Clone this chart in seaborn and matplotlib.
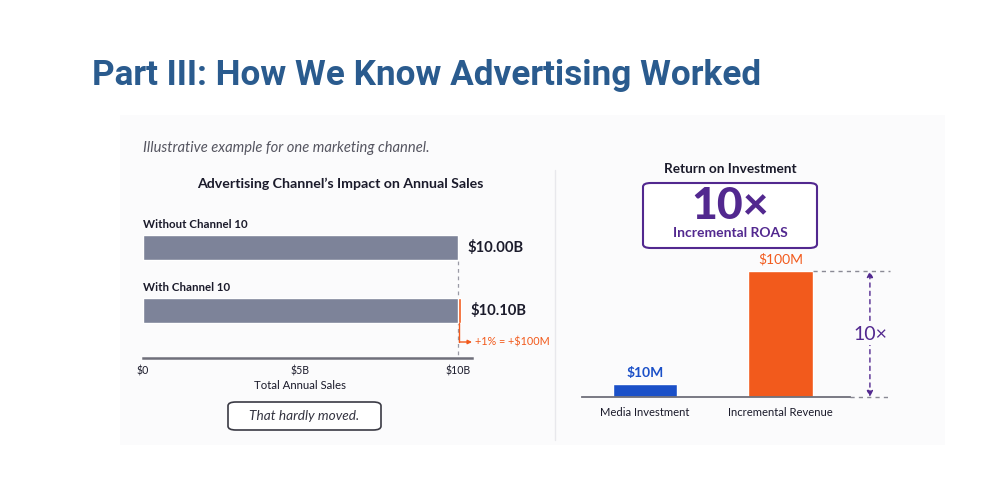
import matplotlib
matplotlib.use("Agg")
import matplotlib.pyplot as plt
from matplotlib.patches import FancyBboxPatch, Rectangle
import seaborn as sns

# --- data ---
sales_labels = ["Without Channel 10", "With Channel 10"]
sales_base = [10.0, 10.0]          # $B without the channel
sales_total = [10.0, 10.1]         # $B with the channel lift
sales_text = ["$10.00B", "$10.10B"]
sales_ticks = [0, 5, 10]
sales_tick_labels = ["$0", "$5B", "$10B"]

roi_labels = ["Media Investment", "Incremental Revenue"]
roi_values = [10, 100]             # $M
roi_text = ["$10M", "$100M"]

GRAY_BAR = "#7d8399"
ORANGE = "#f25a1c"
BLUE = "#1b50c8"
PURPLE = "#52288f"
DARK = "#1b1b2b"
AXIS = "#6f6f7a"
PANEL = "#fbfbfc"

W, H = 984, 482

sns.set_theme(style="white")
plt.rcParams["font.family"] = ["Lato", "DejaVu Sans"]

fig = plt.figure(figsize=(W / 100, H / 100), dpi=100)
fig.patch.set_facecolor("white")


def fx(x):
    return x / W


def fy(y):
    return 1 - y / H


def px_axes(x0, y0, x1, y1):
    a = fig.add_axes([fx(x0), fy(y1), (x1 - x0) / W, (y1 - y0) / H])
    a.set_zorder(2)
    a.patch.set_alpha(0)
    return a


# faint slide panel
fig.patches.append(Rectangle((fx(120), fy(445)), (945 - 120) / W, (445 - 115) / H,
                             transform=fig.transFigure, facecolor=PANEL,
                             edgecolor="none", zorder=-10))

fig.text(fx(92), fy(76), "Part III: How We Know Advertising Worked",
         family=["Roboto", "DejaVu Sans"],
         fontsize=25.3, fontweight="bold", color="#2a5b8e", va="center", ha="left")

# separator
fig.add_artist(plt.Line2D([fx(555), fx(555)], [fy(170), fy(440)],
                          transform=fig.transFigure, color="#e8e8ec", lw=1,
                          zorder=-5))

# ---------------- left chart ----------------
fig.text(fx(143), fy(148), "Illustrative example for one marketing channel.",
         fontsize=10.6, style="italic", color="#555560", va="center")
fig.text(fx(340), fy(184), "Advertising Channel\u2019s Impact on Annual Sales",
         fontsize=10.2, fontweight="bold", color=DARK, ha="center", va="center")

ax = px_axes(143, 200, 472, 358)
sns.barplot(x=sales_total, y=sales_labels, orient="h", color=ORANGE,
            width=0.4, ax=ax, saturation=1)
sns.barplot(x=sales_base, y=sales_labels, orient="h", color=GRAY_BAR,
            width=0.4, ax=ax, saturation=1)
ax.set_xlim(0, 10.45)
ax.set_ylim(1.754, -0.754)
for s in ["top", "right", "left"]:
    ax.spines[s].set_visible(False)
ax.spines["bottom"].set_color(AXIS)
ax.spines["bottom"].set_linewidth(1.8)
ax.set_yticks([])
ax.set_ylabel("")
ax.set_xticks(sales_ticks)
ax.set_xticklabels(sales_tick_labels, fontsize=7.6, color=DARK)
ax.tick_params(axis="x", direction="inout", length=5, width=1.2, color=AXIS, pad=3)
ax.set_xlabel("Total Annual Sales", fontsize=8.2, color=DARK)
ax.xaxis.set_label_coords((300 - 143) / 329, -0.14)

for i, (lab, tot, txt) in enumerate(zip(sales_labels, sales_total, sales_text)):
    ax.text(0, i - 0.37, lab, fontsize=8.3, fontweight="bold", color=DARK,
            ha="left", va="center")
    ax.annotate(txt, (tot, i), xytext=(7, 0), textcoords="offset points",
                fontsize=10.6, fontweight="bold", color=DARK, va="center", ha="left")

ax.vlines(sales_base[0], 0.22, 1.754, colors="#9a9aa5", linestyles=(0, (3, 3)),
          lw=0.9, zorder=0)

lift = sales_total[1] - sales_base[1]
ax.plot([sales_base[1] + lift / 2, sales_base[1] + lift / 2], [1.2, 1.5],
        color=ORANGE, lw=1, clip_on=False)
ax.annotate("", xy=(10.45, 1.5), xytext=(sales_base[1] + lift / 2, 1.5),
            arrowprops=dict(arrowstyle="-|>", color=ORANGE, lw=1,
                            mutation_scale=6, shrinkA=0, shrinkB=0))
ax.text(10.55, 1.5, "+1% = +$100M", fontsize=7.8, color=ORANGE,
        va="center", ha="left", clip_on=False)

fig.patches.append(FancyBboxPatch((fx(228), fy(430)), (381 - 228) / W, (430 - 402) / H,
                                  boxstyle="round,pad=0,rounding_size=0.008",
                                  transform=fig.transFigure, facecolor="white",
                                  edgecolor="#3a3a44", lw=1.2))
fig.text(fx(304), fy(416), "That hardly moved.", fontsize=9.8, style="italic",
         color="#333340", ha="center", va="center")

# ---------------- right chart ----------------
fig.text(fx(730), fy(169), "Return on Investment", fontsize=9.8,
         fontweight="bold", color=DARK, ha="center", va="center")
fig.patches.append(FancyBboxPatch((fx(643), fy(248)), (817 - 643) / W, (248 - 183) / H,
                                  boxstyle="round,pad=0,rounding_size=0.008",
                                  transform=fig.transFigure, facecolor="white",
                                  edgecolor=PURPLE, lw=1.5))
fig.text(fx(730), fy(206), "10\u00d7", fontsize=32, fontweight="black",
         color=PURPLE, ha="center", va="center")
fig.text(fx(730), fy(233), "Incremental ROAS", fontsize=10, fontweight="bold",
         color=PURPLE, ha="center", va="center")

ax2 = px_axes(582, 250, 850, 397)
sns.barplot(x=roi_labels, y=roi_values, hue=roi_labels, palette=[BLUE, ORANGE],
            legend=False, width=0.475, ax=ax2, saturation=1)
ax2.set_xlim(-0.465, 1.513)
ax2.set_ylim(0, 116.7)
for s in ["top", "right", "left"]:
    ax2.spines[s].set_visible(False)
ax2.spines["bottom"].set_color(AXIS)
ax2.spines["bottom"].set_linewidth(1.3)
ax2.set_yticks([])
ax2.set_ylabel("")
ax2.set_xlabel("")
ax2.tick_params(axis="x", length=0, pad=7)
ax2.set_xticks(range(len(roi_labels)))
ax2.set_xticklabels(roi_labels, fontsize=8.1, color=DARK)

for i, (v, txt, c) in enumerate(zip(roi_values, roi_text, [BLUE, ORANGE])):
    ax2.annotate(txt, (i, v), xytext=(0, 4), textcoords="offset points",
                 fontsize=10, fontweight="bold" if i == 0 else "normal",
                 color=c, ha="center", va="bottom")

x_end = 1.808
ax2.plot([1 + 0.475 / 2, x_end], [roi_values[1]] * 2, color="#8a8a95",
         ls=(0, (3, 3)), lw=1, clip_on=False)
ax2.plot([1.513, x_end], [0, 0], color="#8a8a95", ls=(0, (3, 3)), lw=1,
         clip_on=False)
x_arr = 1.66
ax2.annotate("", xy=(x_arr, roi_values[1]), xytext=(x_arr, 0),
             arrowprops=dict(arrowstyle="<|-|>", color=PURPLE, lw=1,
                             ls=(0, (3, 3)), mutation_scale=9,
                             shrinkA=0, shrinkB=0), annotation_clip=False)
ax2.text(x_arr, 50, "10\u00d7", fontsize=14, color=PURPLE, ha="center",
         va="center", clip_on=False,
         bbox=dict(facecolor=PANEL, edgecolor="none", pad=2))

fig.savefig("out.png", dpi=100)
